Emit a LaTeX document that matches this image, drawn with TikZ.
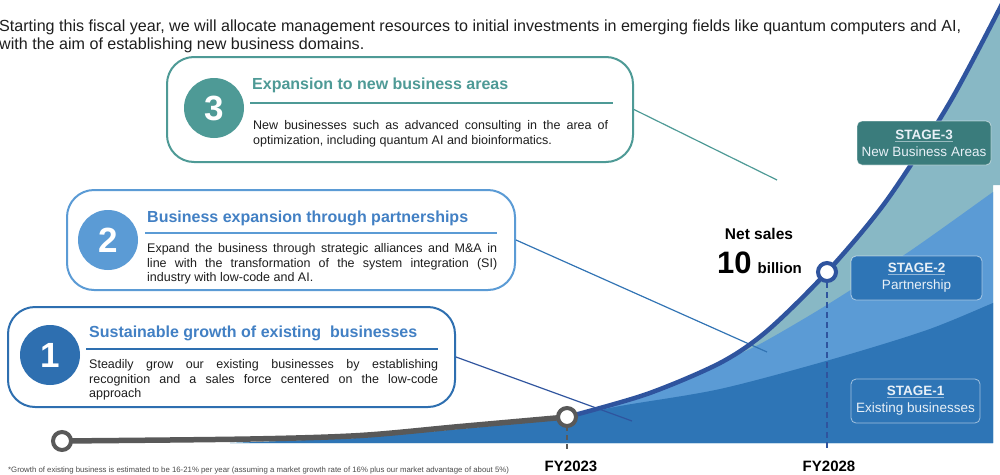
\documentclass[tikz,border=0pt]{standalone}
\usepackage{fontspec}
\setmainfont{Liberation Sans}

\definecolor{curveblue}{RGB}{47,84,158}
\definecolor{stageone}{RGB}{46,117,182}
\definecolor{stagetwo}{RGB}{91,155,213}
\definecolor{stagethree}{RGB}{136,184,197}
\definecolor{tealbox}{RGB}{58,124,124}
\definecolor{tealline}{RGB}{78,154,150}
\definecolor{darkline}{RGB}{46,111,176}
\definecolor{headblue}{RGB}{66,128,196}
\definecolor{axisgray}{RGB}{89,89,89}
\definecolor{bodyink}{RGB}{30,30,30}
\definecolor{stageink}{RGB}{232,240,247}

\newcommand\fsize[2]{\fontsize{#1}{#2}\selectfont}

\begin{document}
\begin{tikzpicture}[x=1pt, y=-1pt,
    callout/.style={draw, fill=white, line width=2pt, rounded corners=27pt, inner sep=0pt},
    numdot/.style={circle, minimum size=60pt, inner sep=0pt, text=white, font=\bfseries\fsize{35}{35}},
    headline/.style={anchor=base west, inner sep=0pt, font=\bfseries\fsize{16}{16}},
    bodytext/.style={anchor=north west, inner sep=0pt, align=left, text=bodyink, font=\fsize{12.5}{14.5}},
    stagebox/.style={draw=white, draw opacity=0.55, line width=0.8pt, rounded corners=5pt, minimum height=44pt, inner sep=0pt, align=center, text=stageink, font=\fsize{13.5}{17}},
    yearlabel/.style={anchor=base, inner sep=0pt, font=\bfseries\fsize{15}{15}},
    milestone/.style={circle, fill=white, line width=4pt, minimum size=18pt, inner sep=0pt},
    link/.style={line width=1.2pt}]

    \useasboundingbox (0,0) rectangle (1000,474);

    % heading text
    \node[anchor=base west, inner sep=0pt, text=bodyink, font=\fsize{16.1}{18}] (intro1) at (-1,31)
        {Starting this fiscal year, we will allocate management resources to initial investments in emerging fields like quantum computers and AI,};
    \node[anchor=base west, inner sep=0pt, text=bodyink, font=\fsize{16.1}{18}] (intro2) at (-1,49)
        {with the aim of establishing new business domains.};

    % milestones on the sales curve
    \coordinate (p0) at (62,441);
    \coordinate (p23) at (567,417);
    \coordinate (p28) at (827,272);
    \coordinate (tick23) at (567,449);
    \coordinate (tick28) at (827,448);

    % stacked areas under the curve
    \begin{scope}
        \clip (230,443) -- (360,438) -- (460,429) -- (567,419) -- plot[smooth] coordinates {(p23) (647,394) (720,363) (767,331) (p28) (887,200) (950,102) (1004,0)}
            -- (1004,185) -- (993,185) -- (993,443) -- cycle;
        \fill[stagethree] (220,0) rectangle (1010,450);
        \fill[stagetwo] (560,200) -- (720,200) -- plot[smooth] coordinates {(720,362) (760,344) (830,303) (910,251) (993,192) (1010,180)}
            -- (1010,450) -- (560,450) -- cycle;
        \fill[stageone] (220,300) -- (575,300) -- plot[smooth] coordinates {(575,416) (620,406) (720,389) (833,359) (927,330) (993,303) (1010,296)}
            -- (1010,450) -- (220,450) -- cycle;
    \end{scope}

    % callouts
    \node[callout, draw=tealline, minimum width=466pt, minimum height=105pt] (box3) at (400,109.5) {};
    \node[callout, draw=stagetwo, minimum width=448pt, minimum height=100pt] (box2) at (291,240) {};
    \node[callout, draw=darkline, minimum width=447pt, minimum height=100pt] (box1) at (231.5,357) {};

    \coordinate (end3) at (777,180);
    \coordinate (end2) at (767,352);
    \coordinate (end1) at (632,421);
    \draw[link, tealline] (box3.east) -- (end3);
    \draw[link, darkline!90!stagetwo] (box2.east) -- (end2);
    \draw[link, curveblue] (box1.east) -- (end1);

    % year ticks
    \draw[axisgray, line width=2.5pt, dash pattern=on 5pt off 4pt] (p23) -- (tick23);
    \draw[curveblue, line width=2.5pt, dash pattern=on 6pt off 4pt] (p28) -- (tick28);

    % sales curve
    \draw[axisgray, line width=5.5pt, line cap=round] plot[smooth] coordinates {(p0) (250,439) (360,435.5) (460,426.5) (p23)};
    \draw[curveblue, line width=4.5pt] plot[smooth] coordinates {(p23) (647,394) (720,363) (767,331) (p28) (887,200) (950,102) (1004,0)};

    \node[milestone, draw=axisgray] (start) at (p0) {};
    \node[milestone, draw=axisgray] (fy23) at (p23) {};
    \node[milestone, draw=curveblue] (fy28) at (p28) {};

    \node[yearlabel] (year23) at (571,471) {FY2023};
    \node[yearlabel] (year28) at (829,471) {FY2028};

    % target
    \node[anchor=base, inner sep=0pt, font=\bfseries\fsize{15.5}{15.5}] (netsales) at (759,239) {Net sales};
    \node[anchor=base west, inner sep=0pt, font=\bfseries] (target) at (717,273)
        {\fsize{31}{31}10\hspace{6pt}\fsize{15}{15}billion};

    % stage 3
    \node[numdot, fill=tealline] (dot3) at (214,108) {3};
    \node[headline, text=tealline] (head3) at (252,89) {Expansion to new business areas};
    \draw[tealline, line width=1.5pt] (250,103) -- (613,103);
    \node[bodytext] (text3) at (253,120.5)
        {\makebox[355pt][s]{New businesses such as advanced consulting in the area of}\\
         optimization, including quantum AI and bioinformatics.};

    % stage 2
    \node[numdot, fill=stagetwo] (dot2) at (108,240) {2};
    \node[headline, text=headblue] (head2) at (147,222) {Business expansion through partnerships};
    \draw[stagetwo, line width=1.5pt] (145,233) -- (497,233);
    \node[bodytext] (text2) at (147,243.5)
        {\makebox[350pt][s]{Expand the business through strategic alliances and M\&A in}\\
         \makebox[350pt][s]{line with the transformation of the system integration (SI)}\\
         industry with low-code and AI.};

    % stage 1
    \node[numdot, fill=darkline] (dot1) at (50,355) {1};
    \node[headline, text=headblue] (head1) at (89,337) {Sustainable growth of existing\ \ businesses};
    \draw[darkline, line width=1.5pt] (86,349) -- (438,349);
    \node[bodytext] (text1) at (89,359.5)
        {\makebox[349pt][s]{Steadily grow our existing businesses by establishing}\\
         \makebox[349pt][s]{recognition and a sales force centered on the low-code}\\
         approach};

    % stage labels
    \node[stagebox, fill=tealbox, minimum width=134pt] (stage3) at (924,143)
        {\underline{\textbf{STAGE-3}}\\New Business Areas};
    \node[stagebox, fill=stageone, minimum width=131pt] (stage2) at (916.5,278)
        {\underline{\textbf{STAGE-2}}\\Partnership};
    \node[stagebox, minimum width=129pt] (stage1) at (915.5,401)
        {\underline{\textbf{STAGE-1}}\\Existing businesses};

    % footnote
    \node[anchor=base west, inner sep=0pt, text=bodyink!80, font=\fsize{7.8}{8}] (note) at (8,472.5)
        {*Growth of existing business is estimated to be 16-21\% per year (assuming a market growth rate of 16\% plus our market advantage of about 5\%)};
\end{tikzpicture}
\end{document}
